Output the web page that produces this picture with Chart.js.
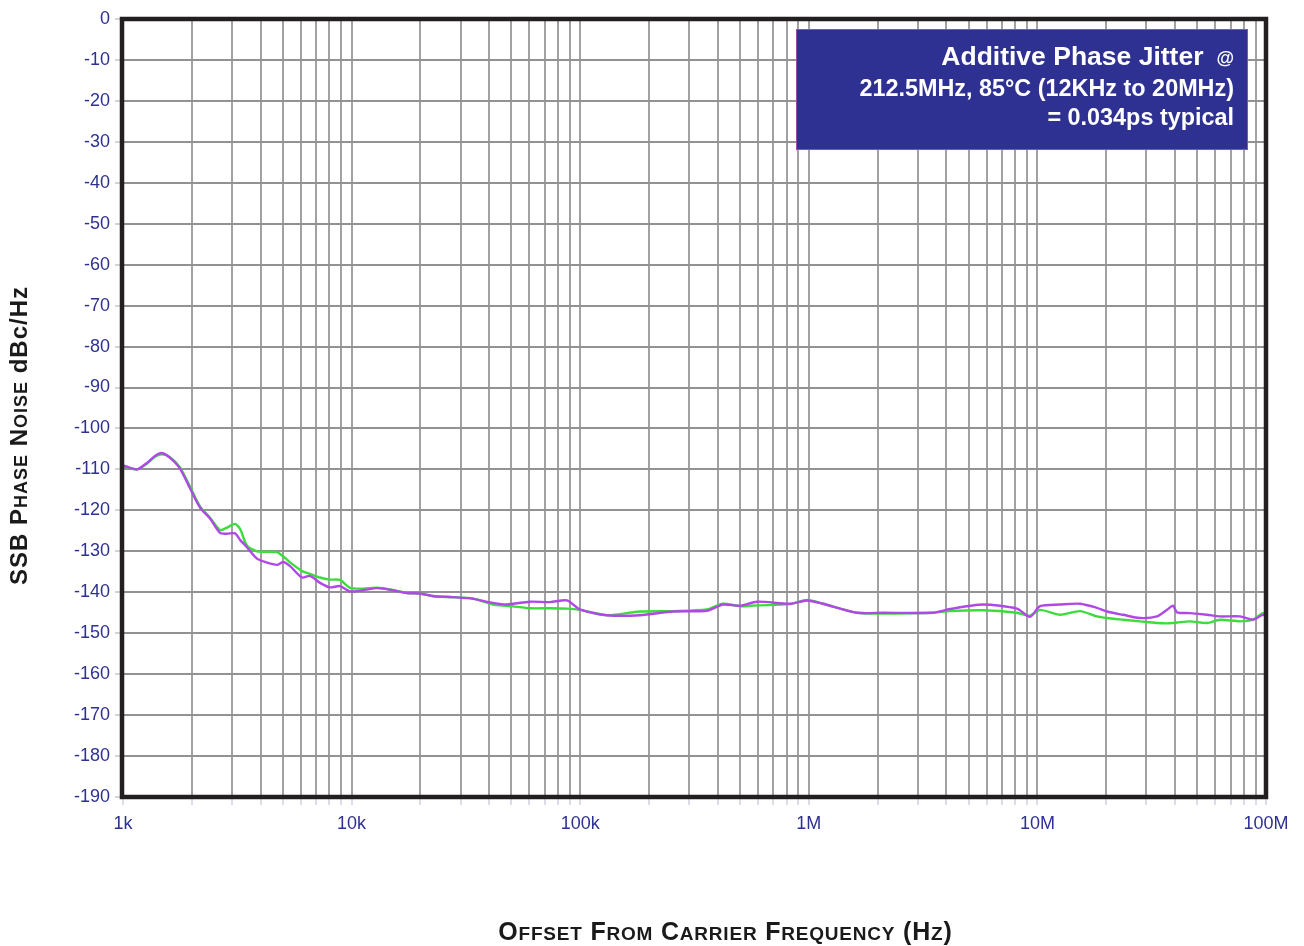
<!DOCTYPE html>
<html>
<head>
<meta charset="utf-8">
<script src="https://cdn.jsdelivr.net/npm/chart.js@4.4.0/dist/chart.umd.min.js"></script>
<style>
  html, body { margin: 0; padding: 0; background: #fff; }
</style>
</head>
<body>
<canvas id="noiseChart" width="1304" height="946"></canvas>
<script>
// offset frequency (Hz) and SSB phase noise (dBc/Hz)
const freqHz = [
  1000, 1151, 1273, 1380, 1481, 1606, 1775, 1964, 2172, 2402,
  2657, 2851, 3090, 3250, 3484, 3857, 4180, 4720, 5010, 5380,
  6067, 6580, 7275, 8045, 8898, 9840, 11220, 12900, 14720, 17470,
  19920, 22700, 27770, 33960, 41540, 47840, 60300, 73800, 87600, 99800,
  131000, 182600, 254600, 358500, 421300, 500000, 593400, 827700, 982000, 1154000,
  1625000, 2110000, 3490000, 4150000, 5780000, 8140000, 9280000, 10270000, 12560000, 15360000,
  18230000, 20160000, 23690000, 28110000, 33370000, 36890000, 39200000, 40800000, 46500000, 55200000,
  62900000, 76900000, 87700000, 96000000, 100000000
];
const magentaDb = [
  -109.0, -110.0, -108.4, -106.7, -106.0, -107.2, -109.8, -114.6, -119.3, -122.0,
  -125.5, -125.7, -125.6, -127.2, -129.0, -131.8, -132.6, -133.3, -132.6, -133.6,
  -136.4, -136.0, -137.7, -138.8, -138.5, -139.8, -139.5, -139.0, -139.4, -140.2,
  -140.3, -140.9, -141.2, -141.6, -142.6, -143.0, -142.3, -142.4, -142.0, -144.2,
  -145.6, -145.6, -144.7, -144.5, -143.0, -143.3, -142.3, -142.8, -142.0, -142.8,
  -145.0, -145.0, -145.0, -144.1, -143.0, -144.0, -146.0, -143.4, -143.0, -142.8,
  -143.8, -144.7, -145.5, -146.3, -145.9, -144.3, -143.3, -144.9, -145.1, -145.5,
  -145.9, -145.9, -146.7, -145.6, -145.5
];
const greenDb = [
  -109.2, -110.0, -108.6, -106.9, -106.3, -107.0, -109.5, -114.2, -119.0, -121.8,
  -124.8, -124.2, -123.3, -124.5, -128.6, -130.0, -130.1, -130.2, -131.2, -132.7,
  -134.8, -135.5, -136.4, -136.9, -137.0, -138.9, -139.1, -138.9, -139.3, -140.2,
  -140.3, -141.0, -141.2, -141.5, -143.0, -143.3, -143.9, -143.9, -144.0, -144.3,
  -145.6, -144.7, -144.6, -144.2, -142.8, -143.4, -143.2, -142.9, -141.9, -142.8,
  -145.0, -145.2, -145.0, -144.6, -144.4, -145.0, -145.7, -144.3, -145.5, -144.6,
  -145.9, -146.3, -146.7, -147.1, -147.5, -147.6, -147.5, -147.4, -147.1, -147.5,
  -146.7, -147.1, -146.7, -145.2, -145.0
];

const xDecades = [1e3, 1e4, 1e5, 1e6, 1e7, 1e8];
const xDecadeLabels = ['1k', '10k', '100k', '1M', '10M', '100M'];
const noteLines = [
  'Additive Phase Jitter',
  '212.5MHz, 85°C (12KHz to 20MHz)',
  '= 0.034ps typical'
];

const FONT = '"Liberation Sans", Arial, Helvetica, sans-serif';
const NAVY = '#2e3192';

// draws text in small caps: lowercase letters become smaller capitals
function smallCapsRun(ctx, parts, big, small, spacing, draw) {
  let x = 0;
  parts.forEach(([text, caps]) => {
    for (const ch of text) {
      const low = caps && /[a-z]/.test(ch);
      ctx.font = 'bold ' + (low ? small : big) + 'px ' + FONT;
      const c = low ? ch.toUpperCase() : ch;
      if (draw) ctx.fillText(c, x, 0);
      x += ctx.measureText(c).width + spacing;
    }
  });
  return x - spacing;
}

const notesPlugin = {
  id: 'notes',
  afterDatasetsDraw(chart) {
    const { ctx, chartArea: a } = chart;
    ctx.save();

    // jitter note box
    ctx.fillStyle = NAVY;
    ctx.fillRect(796, 29, 452, 121);
    ctx.strokeStyle = '#9a4aa8';
    ctx.lineWidth = 1;
    ctx.strokeRect(796.5, 29.5, 451, 120);

    ctx.fillStyle = '#fff';
    ctx.textAlign = 'right';
    ctx.textBaseline = 'alphabetic';
    const rx = 1234;
    ctx.font = 'bold 18px ' + FONT;
    const atW = ctx.measureText('@').width;
    ctx.fillText('@', rx, 64);
    ctx.font = 'bold 26.5px ' + FONT;
    ctx.fillText(noteLines[0], rx - atW - 13, 65);
    ctx.font = 'bold 23.4px ' + FONT;
    ctx.fillText(noteLines[1], rx, 96);
    ctx.fillText(noteLines[2], rx, 125);

    // heavy plot frame
    ctx.strokeStyle = '#231f20';
    ctx.lineWidth = 4.5;
    ctx.strokeRect(a.left - 1, a.top, a.right - a.left + 1, a.bottom - a.top);
    ctx.restore();
  },
  afterDraw(chart) {
    const { ctx } = chart;
    ctx.save();
    ctx.fillStyle = '#1a1a1a';
    ctx.textAlign = 'left';
    ctx.textBaseline = 'alphabetic';

    const xParts = [['Offset From Carrier Frequency (Hz)', true]];
    const xw = smallCapsRun(ctx, xParts, 25, 19, 0.8, false);
    ctx.translate(725 - xw / 2, 940);
    smallCapsRun(ctx, xParts, 25, 19, 0.8, true);
    ctx.restore();

    ctx.save();
    ctx.fillStyle = '#1a1a1a';
    ctx.textAlign = 'left';
    const yParts = [['SSB Phase Noise ', true], ['dBc/Hz', false]];
    const yw = smallCapsRun(ctx, yParts, 24, 18, 1, false);
    ctx.translate(27, 436 + yw / 2);
    ctx.rotate(-Math.PI / 2);
    smallCapsRun(ctx, yParts, 24, 18, 1, true);
    ctx.restore();
  }
};

const ctx = document.getElementById('noiseChart').getContext('2d');

const noiseChart = new Chart(ctx, {
  type: 'line',
  data: {
    datasets: [
      {
        label: 'magenta',
        data: freqHz.map((f, i) => ({ x: f, y: magentaDb[i] })),
        borderColor: '#b048e6',
        borderWidth: 2.4,
        pointRadius: 0,
        tension: 0.25
      },
      {
        label: 'green',
        data: freqHz.map((f, i) => ({ x: f, y: greenDb[i] })),
        borderColor: '#3cdc3c',
        borderWidth: 2.4,
        pointRadius: 0,
        tension: 0.25
      }
    ]
  },
  options: {
    responsive: false,
    animation: false,
    layout: { padding: { top: 19, right: 38, left: 0, bottom: 0 } },
    plugins: {
      legend: { display: false },
      tooltip: { enabled: false }
    },
    scales: {
      x: {
        type: 'logarithmic',
        min: 1e3,
        max: 1e8,
        afterBuildTicks(scale) {
          const ticks = [];
          for (let d = 0; d < xDecades.length - 1; d++) {
            for (let m = 1; m < 10; m++) ticks.push({ value: m * xDecades[d] });
          }
          ticks.push({ value: xDecades[xDecades.length - 1] });
          scale.ticks = ticks;
        },
        afterFit(scale) { scale.height = 149; },
        border: { display: false },
        grid: {
          color: '#a2a2a2',
          lineWidth: 2,
          tickLength: 8,
          tickColor: '#dcdcea'
        },
        ticks: {
          autoSkip: false,
          maxRotation: 0,
          padding: 8,
          color: NAVY,
          font: { family: FONT, size: 18 },
          callback(value) {
            const i = xDecades.findIndex(d => Math.abs(d - value) / d < 1e-6);
            return i >= 0 ? xDecadeLabels[i] : '';
          }
        }
      },
      y: {
        type: 'linear',
        min: -190,
        max: 0,
        afterFit(scale) { scale.width = 123; },
        border: { display: false },
        grid: {
          color: '#929292',
          lineWidth: 2,
          tickLength: 8,
          tickColor: '#d4d4d4'
        },
        ticks: {
          stepSize: 10,
          padding: 5,
          color: NAVY,
          font: { family: FONT, size: 18 }
        }
      }
    }
  },
  plugins: [notesPlugin]
});
</script>
</body>
</html>
